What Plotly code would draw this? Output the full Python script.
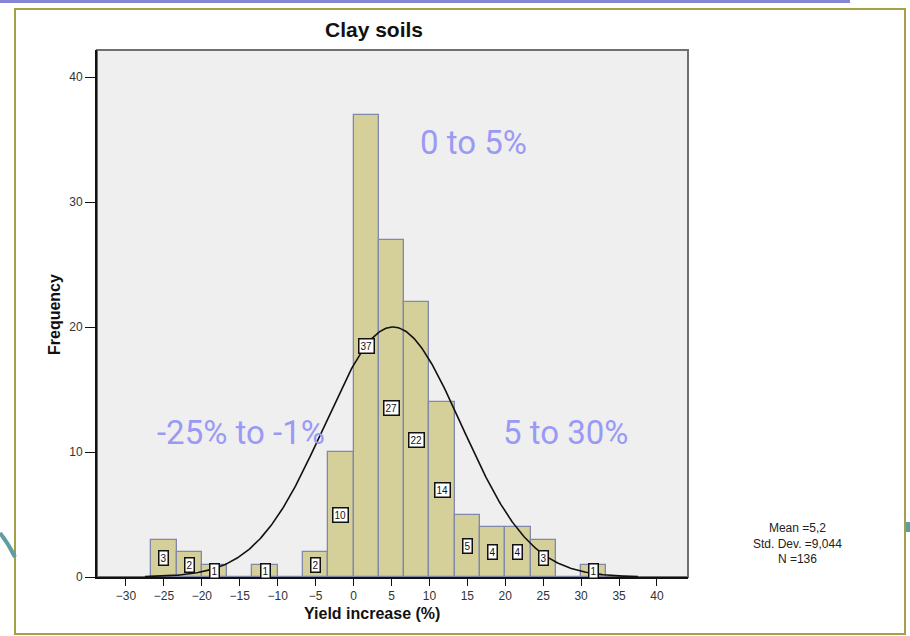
import numpy as np
import plotly.graph_objects as go

# Histogram of yield increase on clay soils
bin_lower = [-80/3, -70/3, -20.0, -50/3, -40/3, -10.0, -20/3, -10/3,
             0.0, 10/3, 20/3, 10.0, 40/3, 50/3, 20.0, 70/3, 80/3, 30.0]
counts = [3, 2, 1, 0, 1, 0, 2, 10, 37, 27, 22, 14, 5, 4, 4, 3, 0, 1]
bin_width = 10/3

# Summary statistics used for the fitted normal curve
mean_val = 5.2
std_val = 9.044
n_obs = 136

x_ticks = [-30, -25, -20, -15, -10, -5, 0, 5, 10, 15, 20, 25, 30, 35, 40]
y_ticks = [0, 10, 20, 30, 40]

range_labels = ["0 to 5%", "-25% to -1%", "5 to 30%"]

W, H = 910, 636
FONT = "Arial, Liberation Sans, sans-serif"


def px(x):
    return x / W


def py(y):
    return 1 - y / H


centers = [b + bin_width / 2 for b in bin_lower]

fig = go.Figure()
fig.add_trace(go.Bar(
    x=centers, y=counts, width=bin_width,
    marker=dict(color="#d5cf99", line=dict(color="#8088ab", width=1.3)),
    hoverinfo="skip", showlegend=False,
))

# Normal curve scaled to the histogram
xc = np.linspace(-27.5, 37.5, 400)
yc = n_obs * bin_width / (std_val * np.sqrt(2 * np.pi)) * np.exp(-0.5 * ((xc - mean_val) / std_val) ** 2)
fig.add_trace(go.Scatter(x=xc, y=yc, mode="lines", line=dict(color="#111111", width=1.6),
                         hoverinfo="skip", showlegend=False))

annotations = []
# Count labels in the middle of each bar
for c, n in zip(centers, counts):
    if n == 0:
        continue
    annotations.append(dict(
        x=c, y=n / 2, xref="x", yref="y", text=str(n), showarrow=False,
        font=dict(family=FONT, size=10, color="#111111"),
        bgcolor="white", bordercolor="#111111", borderwidth=1.5, borderpad=1,
    ))

# Range annotations
for txt, (ax, ay) in zip(range_labels, [(473, 142), (241, 432), (565, 432)]):
    annotations.append(dict(
        x=px(ax), y=py(ay), xref="paper", yref="paper", text=txt, showarrow=False,
        xanchor="center", yanchor="middle",
        font=dict(family="Roboto, sans-serif", size=33, color="#9a9af5"),
    ))

# Statistics block
stats_text = "<br>".join([f"Mean ={str(mean_val).replace('.', ',')}",
                          f"Std. Dev. ={str(std_val).replace('.', ',')}",
                          f"N ={n_obs}"])
annotations.append(dict(
    x=px(797), y=py(543), xref="paper", yref="paper", text=stats_text, showarrow=False,
    xanchor="center", yanchor="middle", align="center",
    font=dict(family=FONT, size=12, color="#222222"),
))

# Axis titles
annotations.append(dict(
    x=px(372), y=py(613), xref="paper", yref="paper", text="<b>Yield increase (%)</b>",
    showarrow=False, xanchor="center", yanchor="middle",
    font=dict(family=FONT, size=16, color="#111111"),
))
annotations.append(dict(
    x=px(55), y=py(315), xref="paper", yref="paper", text="<b>Frequency</b>",
    showarrow=False, xanchor="center", yanchor="middle", textangle=-90,
    font=dict(family=FONT, size=16, color="#111111"),
))

shapes = [
    # plot frame
    dict(type="rect", xref="x domain", yref="y domain", x0=0, x1=1, y0=0, y1=1,
         line=dict(color="#6f6f6f", width=2), layer="below"),
    # page border
    dict(type="rect", xref="paper", yref="paper", x0=px(15), x1=px(905), y0=py(634), y1=py(9),
         line=dict(color="#a3a046", width=2)),
    # top accent line
    dict(type="line", xref="paper", yref="paper", x0=0, x1=px(850), y0=py(1.5), y1=py(1.5),
         line=dict(color="#8585d6", width=3)),
    # teal swoosh at the left edge
    dict(type="path", xref="paper", yref="paper",
         path=f"M {px(0)},{py(533)} Q {px(8)},{py(543)} {px(15)},{py(557)}",
         line=dict(color="#5f9ea0", width=4)),
    dict(type="rect", xref="paper", yref="paper", x0=px(906), x1=px(910), y0=py(532), y1=py(522),
         fillcolor="#5f9ea0", line=dict(width=0)),
]

fig.update_layout(
    width=W, height=H, autosize=False,
    margin=dict(l=0, r=0, t=0, b=0, autoexpand=False),
    paper_bgcolor="white", plot_bgcolor="#efefef",
    bargap=0,
    title=dict(text="<b>Clay soils</b>", x=px(374), y=py(30), xanchor="center", yanchor="middle",
               font=dict(family=FONT, size=21, color="#111111")),
    xaxis=dict(domain=[px(97), px(688)], range=[-33.82, 44.09],
               tickvals=x_ticks, ticks="outside", ticklen=7, tickwidth=1.3, tickcolor="#111111",
               showline=True, linecolor="#111111", linewidth=1.8, showgrid=False, zeroline=False,
               tickfont=dict(family=FONT, size=12, color="#333333")),
    yaxis=dict(domain=[py(577), py(50)], range=[0, 42.16],
               tickvals=y_ticks, ticks="outside", ticklen=10, tickwidth=1.3, tickcolor="#111111",
               showline=True, linecolor="#111111", linewidth=1.8, showgrid=False, zeroline=False,
               tickfont=dict(family=FONT, size=12, color="#333333")),
    annotations=annotations,
    shapes=shapes,
)

fig.write_html("out.html", config={"responsive": False})
